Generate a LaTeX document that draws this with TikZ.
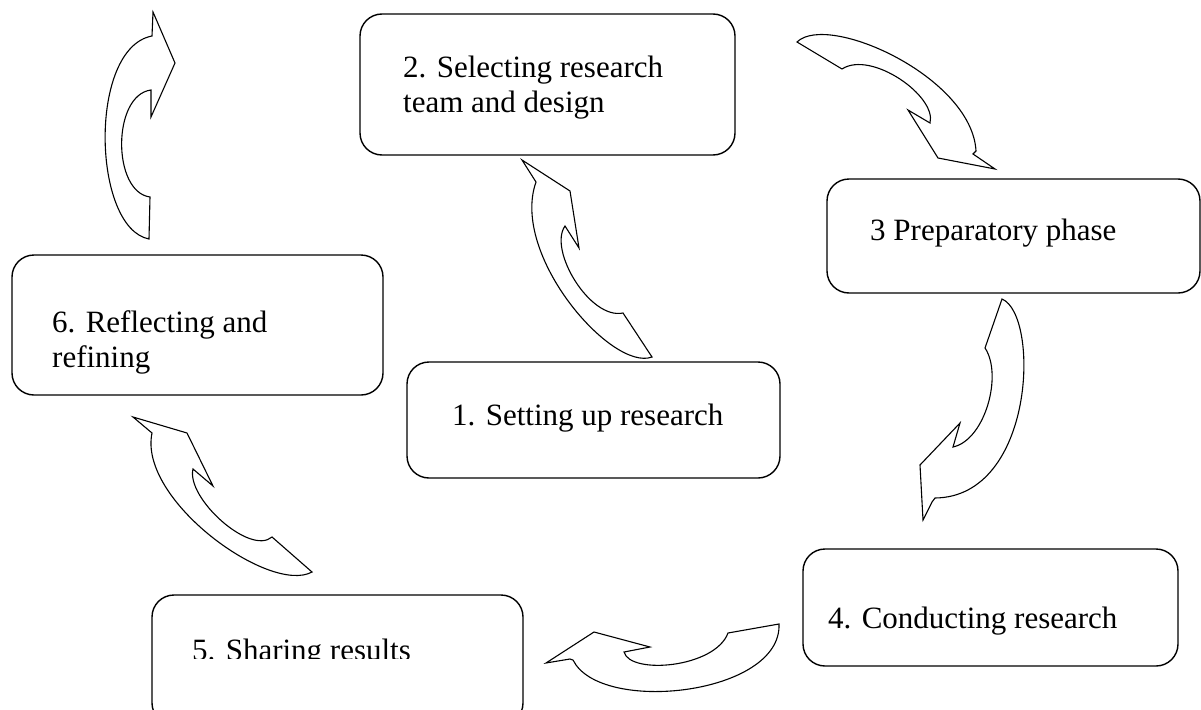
\documentclass[tikz,border=0pt]{standalone}
\usepackage{fontspec}
\setmainfont{Liberation Serif}
\tikzset{
  stepbox/.style={draw, line width=1.4pt, rounded corners=22pt, inner sep=0pt},
  steptext/.style={anchor=north west, inner sep=0pt, align=left, font=\fontsize{31}{35.5}\selectfont},
  bigarrow/.style={draw, line width=1.1pt, fill=white}
}
\begin{document}
\begin{tikzpicture}[x=1pt,y=-1pt]
\useasboundingbox (0,0) rectangle (1201,709);
% boxes
\node[stepbox, minimum width=373pt, minimum height=116pt] (b1) at (593.5,420) {};
\node[stepbox, minimum width=375pt, minimum height=141pt] (b2) at (547.5,84.5) {};
\node[stepbox, minimum width=373pt, minimum height=114pt] (b3) at (1013.5,236) {};
\node[stepbox, minimum width=375pt, minimum height=117pt] (b4) at (990.5,607.5) {};
\node[stepbox, minimum width=371pt, minimum height=130pt] (b5) at (337.5,660) {};
\node[stepbox, minimum width=371pt, minimum height=140pt] (b6) at (197.5,325) {};
% labels
\node[steptext] (t1) at (452,400.2) {\strut 1. Setting up research};
\node[steptext] (t2) at (403,52.2) {\strut 2. Selecting research\\team and design};
\node[steptext] (t3) at (870,215.2) {\strut 3 Preparatory phase};
\node[steptext] (t4) at (828,603.2) {\strut 4. Conducting research};
\begin{scope}
  \clip (150,600) rectangle (530,658);
  \node[steptext] (t5) at (192,635) {\strut 5. Sharing results};
\end{scope}
\node[steptext] (t6) at (52,307.2) {\strut 6. Reflecting and\\refining};
% curved arrows
\draw[bigarrow] (522,160) -- (570,191) -- (579,248) -- (565,226)
  .. controls (548,250) and (590,320) .. (623,313) -- (652,357)
  .. controls (612,372) and (510,255) .. (536,182) -- cycle;
\draw[bigarrow] (995,169) -- (938,158) -- (908,110) -- (930,123)
  .. controls (937,96) and (871,50) .. (842,69) -- (797,42)
  .. controls (828,12) and (972,77) .. (976,151) -- (973,154) -- cycle;
\draw[bigarrow] (923,520) -- (920,465) -- (960,423) -- (953,447)
  .. controls (985,440) and (1003,375) .. (985,348) -- (1002,299)
  .. controls (1040,315) and (1035,497) .. (935,498) -- (932,502) -- cycle;
\draw[bigarrow] (546,663) -- (594,632) -- (650,647) -- (624,652)
  .. controls (630,675) and (715,668) .. (728,633) -- (779,624)
  .. controls (782,695) and (600,715) .. (573,660) -- (570,659) -- cycle;
\draw[bigarrow] (133,417) -- (187,433) -- (213,486) -- (193,469)
  .. controls (186,498) and (250,556) .. (272,537) -- (312,572)
  .. controls (270,595) and (138,500) .. (152,433) -- cycle;
\draw[bigarrow] (175,63) -- (151,117) -- (151,90)
  .. controls (112,95) and (112,192) .. (150,197) -- (149,239)
  .. controls (92,228) and (88,48) .. (152,36) -- (153,12) -- cycle;
\end{tikzpicture}
\end{document}
